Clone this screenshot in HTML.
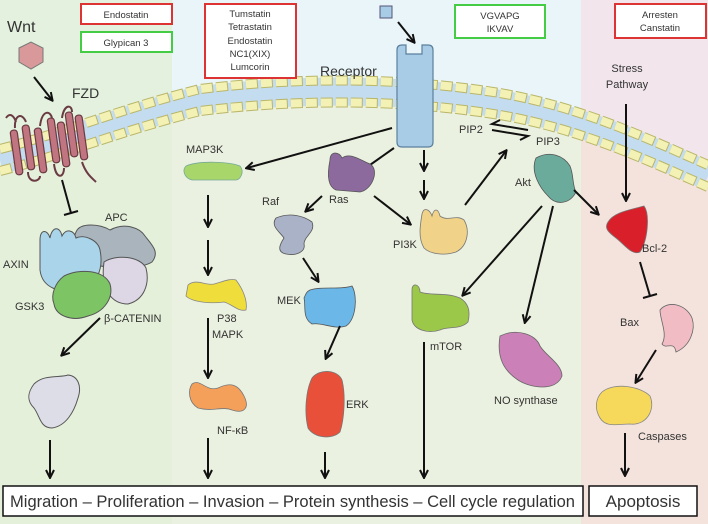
<!DOCTYPE html>
<html><head><meta charset="utf-8"><style>
html,body{margin:0;padding:0;background:#fff}
svg{display:block}
text{font-family:"Liberation Sans",sans-serif;fill:#333}
</style></head><body>
<svg width="708" height="524" viewBox="0 0 708 524" xmlns="http://www.w3.org/2000/svg">
<defs>
<marker id="a" viewBox="0 0 10 10" refX="8" refY="5" markerWidth="5" markerHeight="5" orient="auto"><path d="M1,1 L9,5 L1,9" fill="none" stroke="#111" stroke-width="2"/></marker>
</defs>
<rect x="0" y="0" width="172" height="524" fill="#e3f1de"/>
<rect x="172" y="0" width="409" height="524" fill="#e9f5f8"/>
<rect x="581" y="0" width="127" height="524" fill="#f2e6ec"/>
<path d="M0,165 C60,150 120,120 200,105 C300,92 400,92 500,108 C580,122 640,150 708,180 L708,524 L0,524Z" fill="#e5f0da"/>
<path d="M172,100 C300,92 400,92 500,108 C540,115 560,118 581,128 L581,524 L172,524Z" fill="#ebf1e0"/>
<path d="M581,128 C640,150 670,162 708,180 L708,524 L581,524Z" fill="#f4e3dc"/>
<!-- membrane -->
<path d="M0,160 C60,145 120,120 200,100 C300,88 400,88 500,104 C580,118 640,146 708,176" fill="none" stroke="#c3dcef" stroke-width="28"/>
<path d="M0,149 C60,134 120,109 200,89 C300,77 400,77 500,93 C580,107 640,135 708,165" fill="none" stroke="#b9b66a" stroke-width="10" stroke-dasharray="12 3"/>
<path d="M0,149 C60,134 120,109 200,89 C300,77 400,77 500,93 C580,107 640,135 708,165" fill="none" stroke="#f3f1b3" stroke-width="8" stroke-dasharray="11 4"/>
<path d="M0,171 C60,156 120,131 200,111 C300,99 400,99 500,115 C580,129 640,157 708,187" fill="none" stroke="#b9b66a" stroke-width="10" stroke-dasharray="12 3"/>
<path d="M0,171 C60,156 120,131 200,111 C300,99 400,99 500,115 C580,129 640,157 708,187" fill="none" stroke="#f3f1b3" stroke-width="8" stroke-dasharray="11 4"/>

<!-- top boxes -->
<rect x="81" y="4" width="91" height="20" fill="#fff" stroke="#d33" stroke-width="2"/>
<text x="126" y="18" font-size="9.5" text-anchor="middle">Endostatin</text>
<rect x="81" y="32" width="91" height="20" fill="#fff" stroke="#4c4" stroke-width="2"/>
<text x="126" y="46" font-size="9.5" text-anchor="middle">Glypican 3</text>
<rect x="205" y="4" width="91" height="74" fill="#fff" stroke="#d33" stroke-width="2"/>
<g font-size="9.5" text-anchor="middle"><text x="250" y="17">Tumstatin</text><text x="250" y="30">Tetrastatin</text><text x="250" y="44">Endostatin</text><text x="250" y="57">NC1(XIX)</text><text x="250" y="70">Lumcorin</text></g>
<rect x="455" y="5" width="90" height="33" fill="#fff" stroke="#4c4" stroke-width="2"/>
<g font-size="9.5" text-anchor="middle"><text x="500" y="19">VGVAPG</text><text x="500" y="32">IKVAV</text></g>
<rect x="615" y="4" width="91" height="34" fill="#fff" stroke="#d33" stroke-width="2"/>
<g font-size="9.5" text-anchor="middle"><text x="660" y="18">Arresten</text><text x="660" y="31">Canstatin</text></g>

<!-- Wnt / FZD -->
<text x="7" y="32" font-size="16">Wnt</text>
<polygon points="19,48 31,42 43,48 43,62 31,69 19,62" fill="#d9999a" stroke="#777" stroke-width="1"/>
<line x1="34" y1="77" x2="52" y2="100" stroke="#111" stroke-width="2" marker-end="url(#a)"/>
<text x="72" y="98" font-size="14">FZD</text>
<g stroke="#6b3b44" stroke-width="1.2" fill="#c07580">
<rect x="13" y="130" width="7" height="45" rx="3" transform="rotate(-8 16 152)"/>
<rect x="25" y="125" width="7" height="45" rx="3" transform="rotate(-8 28 148)"/>
<rect x="37" y="128" width="7" height="45" rx="3" transform="rotate(-8 40 150)"/>
<rect x="50" y="118" width="7" height="45" rx="3" transform="rotate(-8 53 140)"/>
<rect x="60" y="122" width="7" height="45" rx="3" transform="rotate(-8 63 144)"/>
<rect x="68" y="112" width="7" height="45" rx="3" transform="rotate(-8 71 134)"/>
<rect x="78" y="115" width="7" height="45" rx="3" transform="rotate(-8 81 138)"/>
</g>
<path d="M15,128 C14,115 22,112 26,122 M40,126 C42,110 50,110 52,118 M62,118 C64,104 72,104 72,112 M28,172 C28,184 40,182 40,176 M54,164 C56,180 64,178 64,168 M82,162 C86,174 92,178 96,182 M6,118 C10,112 14,116 16,122" fill="none" stroke="#6b3b44" stroke-width="2"/>
<line x1="62" y1="180" x2="71" y2="213" stroke="#111" stroke-width="2"/><line x1="64" y1="215" x2="78" y2="211" stroke="#111" stroke-width="2"/>

<!-- destruction complex -->
<path d="M76,232 C80,222 100,224 110,230 C125,222 140,228 145,236 C152,245 160,252 152,262 C140,270 100,268 80,262 C72,255 72,240 76,232Z" fill="#a9b4bc" stroke="#555" stroke-width="1"/>
<path d="M40,240 C40,228 48,230 50,238 C52,226 60,226 62,236 C66,228 74,230 76,238 C84,234 98,240 100,250 C104,270 96,286 80,290 C60,294 42,288 40,270Z" fill="#a9d4ea" stroke="#555" stroke-width="1"/>
<path d="M104,262 C116,254 140,256 146,268 C150,284 144,300 128,304 C112,304 100,290 104,262Z" fill="#ddd6e4" stroke="#555" stroke-width="1"/>
<path d="M64,276 C80,268 104,270 110,284 C114,298 104,312 88,316 C72,322 56,316 54,304 C50,294 56,282 64,276Z" fill="#7dc464" stroke="#555" stroke-width="1"/>
<text x="105" y="221" font-size="11">APC</text>
<text x="3" y="268" font-size="11">AXIN</text>
<text x="15" y="310" font-size="11">GSK3</text>
<text x="104" y="322" font-size="11">β-CATENIN</text>
<line x1="100" y1="318" x2="62" y2="355" stroke="#111" stroke-width="2" marker-end="url(#a)"/>
<path d="M34,384 C44,374 60,378 68,375 C78,376 82,386 78,398 C74,412 66,426 52,428 C40,428 40,416 34,408 C26,400 28,392 34,384Z" fill="#dcdde6" stroke="#555" stroke-width="1"/>
<line x1="50" y1="440" x2="50" y2="477" stroke="#111" stroke-width="2" marker-end="url(#a)"/>

<!-- receptor -->
<rect x="380" y="6" width="12" height="12" fill="#a9cce6" stroke="#557" stroke-width="1"/>
<line x1="398" y1="22" x2="414" y2="42" stroke="#111" stroke-width="2" marker-end="url(#a)"/>
<path d="M397,50 Q397,45 402,45 L406,45 L406,54 L422,54 L422,45 L428,45 Q433,45 433,50 L433,142 Q433,147 428,147 L402,147 Q397,147 397,142Z" fill="#a9cce6" stroke="#5a7f9e" stroke-width="1.2"/>
<text x="320" y="76" font-size="14">Receptor</text>

<!-- MAP3K path -->
<line x1="392" y1="128" x2="247" y2="168" stroke="#111" stroke-width="2" marker-end="url(#a)"/>
<text x="186" y="153" font-size="11">MAP3K</text>
<path d="M186,166 C200,160 230,162 240,166 C245,172 240,180 236,180 L192,180 C184,178 182,170 186,166Z" fill="#a8d66a" stroke="#7a9" stroke-width=".8"/>
<line x1="208" y1="195" x2="208" y2="226" stroke="#111" stroke-width="2" marker-end="url(#a)"/>
<line x1="208" y1="240" x2="208" y2="274" stroke="#111" stroke-width="2" marker-end="url(#a)"/>
<path d="M188,285 C196,278 206,286 214,284 C222,282 230,278 236,280 C242,288 248,300 246,310 C238,312 232,304 224,302 C210,304 192,302 186,296Z" fill="#eedd3a" stroke="#888" stroke-width=".8"/>
<text x="217" y="322" font-size="11">P38</text>
<text x="212" y="338" font-size="11">MAPK</text>
<line x1="208" y1="318" x2="208" y2="377" stroke="#111" stroke-width="2" marker-end="url(#a)"/>
<path d="M192,384 C200,378 206,392 218,388 C230,382 238,384 244,396 C250,408 244,414 232,410 C222,406 212,412 198,408 C188,402 188,390 192,384Z" fill="#f5a05a" stroke="#777" stroke-width=".8"/>
<text x="217" y="434" font-size="11">NF-κB</text>
<line x1="208" y1="438" x2="208" y2="477" stroke="#111" stroke-width="2" marker-end="url(#a)"/>

<!-- Ras/Raf/MEK/ERK -->
<line x1="394" y1="148" x2="360" y2="172" stroke="#111" stroke-width="2" marker-end="url(#a)"/>
<path d="M330,160 C330,150 340,152 342,158 C350,152 360,160 370,164 C380,170 372,190 360,192 L336,190 C326,186 328,170 330,160Z" fill="#8c6a9e" stroke="#555" stroke-width=".8"/>
<text x="329" y="203" font-size="11">Ras</text>
<line x1="322" y1="196" x2="306" y2="211" stroke="#111" stroke-width="2" marker-end="url(#a)"/>
<text x="262" y="205" font-size="11">Raf</text>
<path d="M276,218 C290,212 304,216 312,222 C316,232 304,236 304,244 C306,252 296,256 286,254 C276,252 280,244 284,238 C280,232 270,226 276,218Z" fill="#aab2c8" stroke="#555" stroke-width=".8"/>
<line x1="303" y1="258" x2="318" y2="281" stroke="#111" stroke-width="2" marker-end="url(#a)"/>
<text x="277" y="304" font-size="11">MEK</text>
<path d="M310,290 C322,286 340,290 352,286 C358,296 356,320 346,326 C334,330 322,322 312,324 C302,318 306,306 304,298 C306,294 306,292 310,290Z" fill="#6ab7e8" stroke="#555" stroke-width=".8"/>
<line x1="340" y1="326" x2="326" y2="358" stroke="#111" stroke-width="2" marker-end="url(#a)"/>
<path d="M312,378 C320,368 338,370 342,380 C346,396 344,420 340,432 C332,440 314,438 308,428 C304,412 306,390 312,378Z" fill="#e8503a" stroke="#777" stroke-width=".8"/>
<text x="346" y="408" font-size="11">ERK</text>
<line x1="325" y1="452" x2="325" y2="477" stroke="#111" stroke-width="2" marker-end="url(#a)"/>

<!-- PI3K/Akt -->
<line x1="424" y1="150" x2="424" y2="170" stroke="#111" stroke-width="2" marker-end="url(#a)"/>
<line x1="424" y1="180" x2="424" y2="198" stroke="#111" stroke-width="2" marker-end="url(#a)"/>
<line x1="374" y1="196" x2="410" y2="224" stroke="#111" stroke-width="2" marker-end="url(#a)"/>
<path d="M422,214 C424,206 430,210 432,216 C434,208 438,208 440,216 C448,222 456,214 464,220 C470,230 468,246 456,252 C444,256 430,254 424,248 C418,238 420,226 422,214Z" fill="#f0d288" stroke="#777" stroke-width=".8"/>
<text x="393" y="248" font-size="11">PI3K</text>
<line x1="465" y1="205" x2="506" y2="151" stroke="#111" stroke-width="2" marker-end="url(#a)"/>
<text x="459" y="133" font-size="11">PIP2</text>
<text x="536" y="145" font-size="11">PIP3</text>
<path d="M492,130 L528,136 L520,140" fill="none" stroke="#111" stroke-width="2"/>
<path d="M528,130 L492,124 L500,120" fill="none" stroke="#111" stroke-width="2"/>
<path d="M536,158 C550,150 564,156 570,166 C574,176 572,184 576,192 C570,204 556,206 548,196 C540,188 530,172 536,158Z" fill="#6aab9c" stroke="#555" stroke-width=".8"/>
<text x="515" y="186" font-size="11">Akt</text>
<line x1="574" y1="190" x2="598" y2="214" stroke="#111" stroke-width="2" marker-end="url(#a)"/>
<line x1="542" y1="206" x2="463" y2="295" stroke="#111" stroke-width="2" marker-end="url(#a)"/>
<line x1="553" y1="206" x2="525" y2="322" stroke="#111" stroke-width="2" marker-end="url(#a)"/>
<path d="M412,290 C412,282 420,284 420,292 C430,296 446,292 460,298 C470,304 470,314 468,322 C460,330 448,326 440,330 C428,334 414,330 412,320Z" fill="#9cc84a" stroke="#777" stroke-width=".8"/>
<text x="430" y="350" font-size="11">mTOR</text>
<line x1="424" y1="342" x2="424" y2="477" stroke="#111" stroke-width="2" marker-end="url(#a)"/>
<path d="M500,336 C516,328 536,334 540,346 C546,356 562,364 562,376 C556,392 530,388 518,380 C506,372 496,360 500,336Z" fill="#cc80b8" stroke="#666" stroke-width=".8"/>
<text x="494" y="404" font-size="11">NO synthase</text>

<!-- apoptosis -->
<text x="627" y="72" font-size="11" text-anchor="middle">Stress</text>
<text x="627" y="88" font-size="11" text-anchor="middle">Pathway</text>
<line x1="626" y1="104" x2="626" y2="200" stroke="#111" stroke-width="2" marker-end="url(#a)"/>
<path d="M608,222 C614,212 630,210 644,206 C650,214 648,240 640,252 C632,256 624,244 616,238 C608,232 604,228 608,222Z" fill="#d9202a" stroke="#777" stroke-width=".8"/>
<text x="642" y="252" font-size="11">Bcl-2</text>
<line x1="640" y1="262" x2="650" y2="296" stroke="#111" stroke-width="2"/><line x1="643" y1="298" x2="657" y2="294" stroke="#111" stroke-width="2"/>
<path d="M660,310 C668,300 686,304 692,318 C696,330 690,346 676,352 C674,340 666,350 662,344 C668,334 660,320 660,310Z" fill="#f2bcc4" stroke="#666" stroke-width=".8"/>
<text x="620" y="326" font-size="11">Bax</text>
<line x1="656" y1="350" x2="636" y2="382" stroke="#111" stroke-width="2" marker-end="url(#a)"/>
<path d="M602,392 C614,382 640,386 650,396 C656,410 646,426 630,424 C618,424 606,428 600,418 C594,408 596,398 602,392Z" fill="#f6d85a" stroke="#888" stroke-width=".8"/>
<text x="638" y="440" font-size="11">Caspases</text>
<line x1="625" y1="433" x2="625" y2="475" stroke="#111" stroke-width="2" marker-end="url(#a)"/>

<!-- bottom boxes -->
<rect x="3" y="486" width="580" height="30" fill="#fff" stroke="#111" stroke-width="1.5"/>
<text x="10" y="507" font-size="17" textLength="565" lengthAdjust="spacingAndGlyphs" fill="#111">Migration – Proliferation – Invasion – Protein synthesis – Cell cycle regulation</text>
<rect x="589" y="486" width="108" height="30" fill="#fff" stroke="#111" stroke-width="1.5"/>
<text x="643" y="507" font-size="17" text-anchor="middle" fill="#111">Apoptosis</text>
</svg>
</body></html>
